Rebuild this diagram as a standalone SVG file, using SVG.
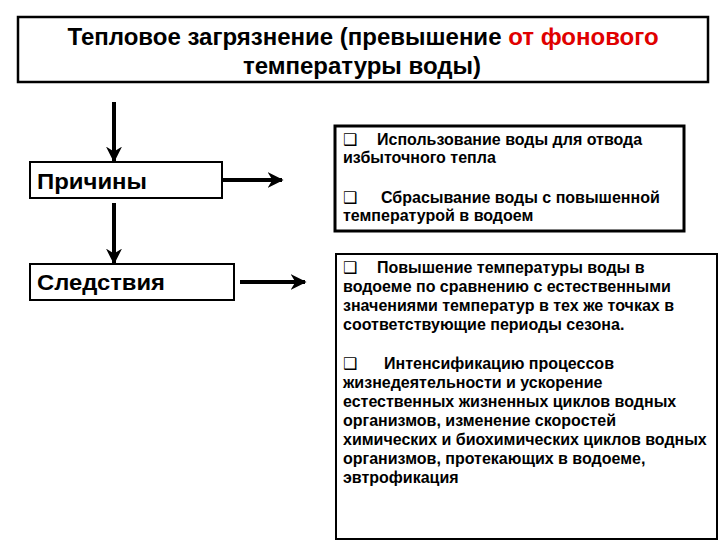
<svg xmlns="http://www.w3.org/2000/svg" width="720" height="540" viewBox="0 0 720 540">
<style>
.box{fill:#fff;stroke:#000}
.t{font-family:"Liberation Sans",Arial,sans-serif;font-weight:bold;fill:#000}
.b{font-family:"Liberation Sans",Arial,sans-serif;font-weight:bold;font-size:16px;fill:#000}
.q{font-family:"DejaVu Sans",sans-serif;font-weight:normal;font-size:16px}
.c{stroke:#000;stroke-width:4;fill:none}
</style>
<defs>
<marker id="ah" viewBox="0 0 10 10" refX="9" refY="5" markerWidth="4" markerHeight="4" orient="auto" markerUnits="strokeWidth">
<path d="M0,0 L10,5 L0,10 L3,5 z" fill="#000"/>
</marker>
</defs>
<rect width="720" height="540" fill="#fff"/>
<g id="title">
<rect class="box" x="18" y="17" width="690" height="65" stroke-width="2.5"/>
<text class="t" font-size="24" x="363" y="45" text-anchor="middle">Тепловое загрязнение (превышение <tspan fill="#e00000">от фонового</tspan></text>
<text class="t" font-size="24" x="362" y="74" text-anchor="middle">температуры воды)</text>
</g>
<g id="prichiny">
<rect class="box" x="30" y="162" width="192" height="36" stroke-width="2"/>
<text class="t" font-size="22" x="37" y="189" textLength="110" lengthAdjust="spacingAndGlyphs">Причины</text>
</g>
<g id="sledstviya">
<rect class="box" x="30" y="264" width="204" height="36" stroke-width="2"/>
<text class="t" font-size="22" x="37" y="290" textLength="128" lengthAdjust="spacingAndGlyphs">Следствия</text>
</g>
<g id="causes">
<rect class="box" x="335" y="126" width="349" height="105" stroke-width="3"/>
<text class="b" x="343" y="145"><tspan class="q">❑</tspan><tspan x="377">Использование воды для отвода</tspan></text>
<text class="b" x="343" y="163">избыточного тепла</text>
<text class="b" x="343" y="203"><tspan class="q">❑</tspan><tspan x="381">Сбрасывание воды с повышенной</tspan></text>
<text class="b" x="343" y="221">температурой в водоем</text>
</g>
<g id="effects">
<rect class="box" x="336" y="254" width="381" height="285" stroke-width="2"/>
<text class="b" x="343" y="273"><tspan class="q">❑</tspan><tspan x="377">Повышение температуры воды в</tspan></text>
<text class="b" x="343" y="292">водоеме по сравнению с естественными</text>
<text class="b" x="343" y="311">значениями температур в тех же точках в</text>
<text class="b" x="343" y="330">соответствующие периоды сезона.</text>
<text class="b" x="343" y="369"><tspan class="q">❑</tspan><tspan x="384">Интенсификацию процессов</tspan></text>
<text class="b" x="343" y="388">жизнедеятельности и ускорение</text>
<text class="b" x="343" y="407">естественных жизненных циклов водных</text>
<text class="b" x="343" y="426">организмов, изменение скоростей</text>
<text class="b" x="343" y="445">химических и биохимических циклов водных</text>
<text class="b" x="343" y="464">организмов, протекающих в водоеме,</text>
<text class="b" x="343" y="483">эвтрофикация</text>
</g>
<g id="connectors">
<line class="c" x1="114" y1="102" x2="114" y2="161" marker-end="url(#ah)"/>
<line class="c" x1="114" y1="203" x2="114" y2="263" marker-end="url(#ah)"/>
<line class="c" x1="223" y1="180" x2="282" y2="180" marker-end="url(#ah)"/>
<line class="c" x1="240" y1="282" x2="305" y2="282" marker-end="url(#ah)"/>
</g>
</svg>
